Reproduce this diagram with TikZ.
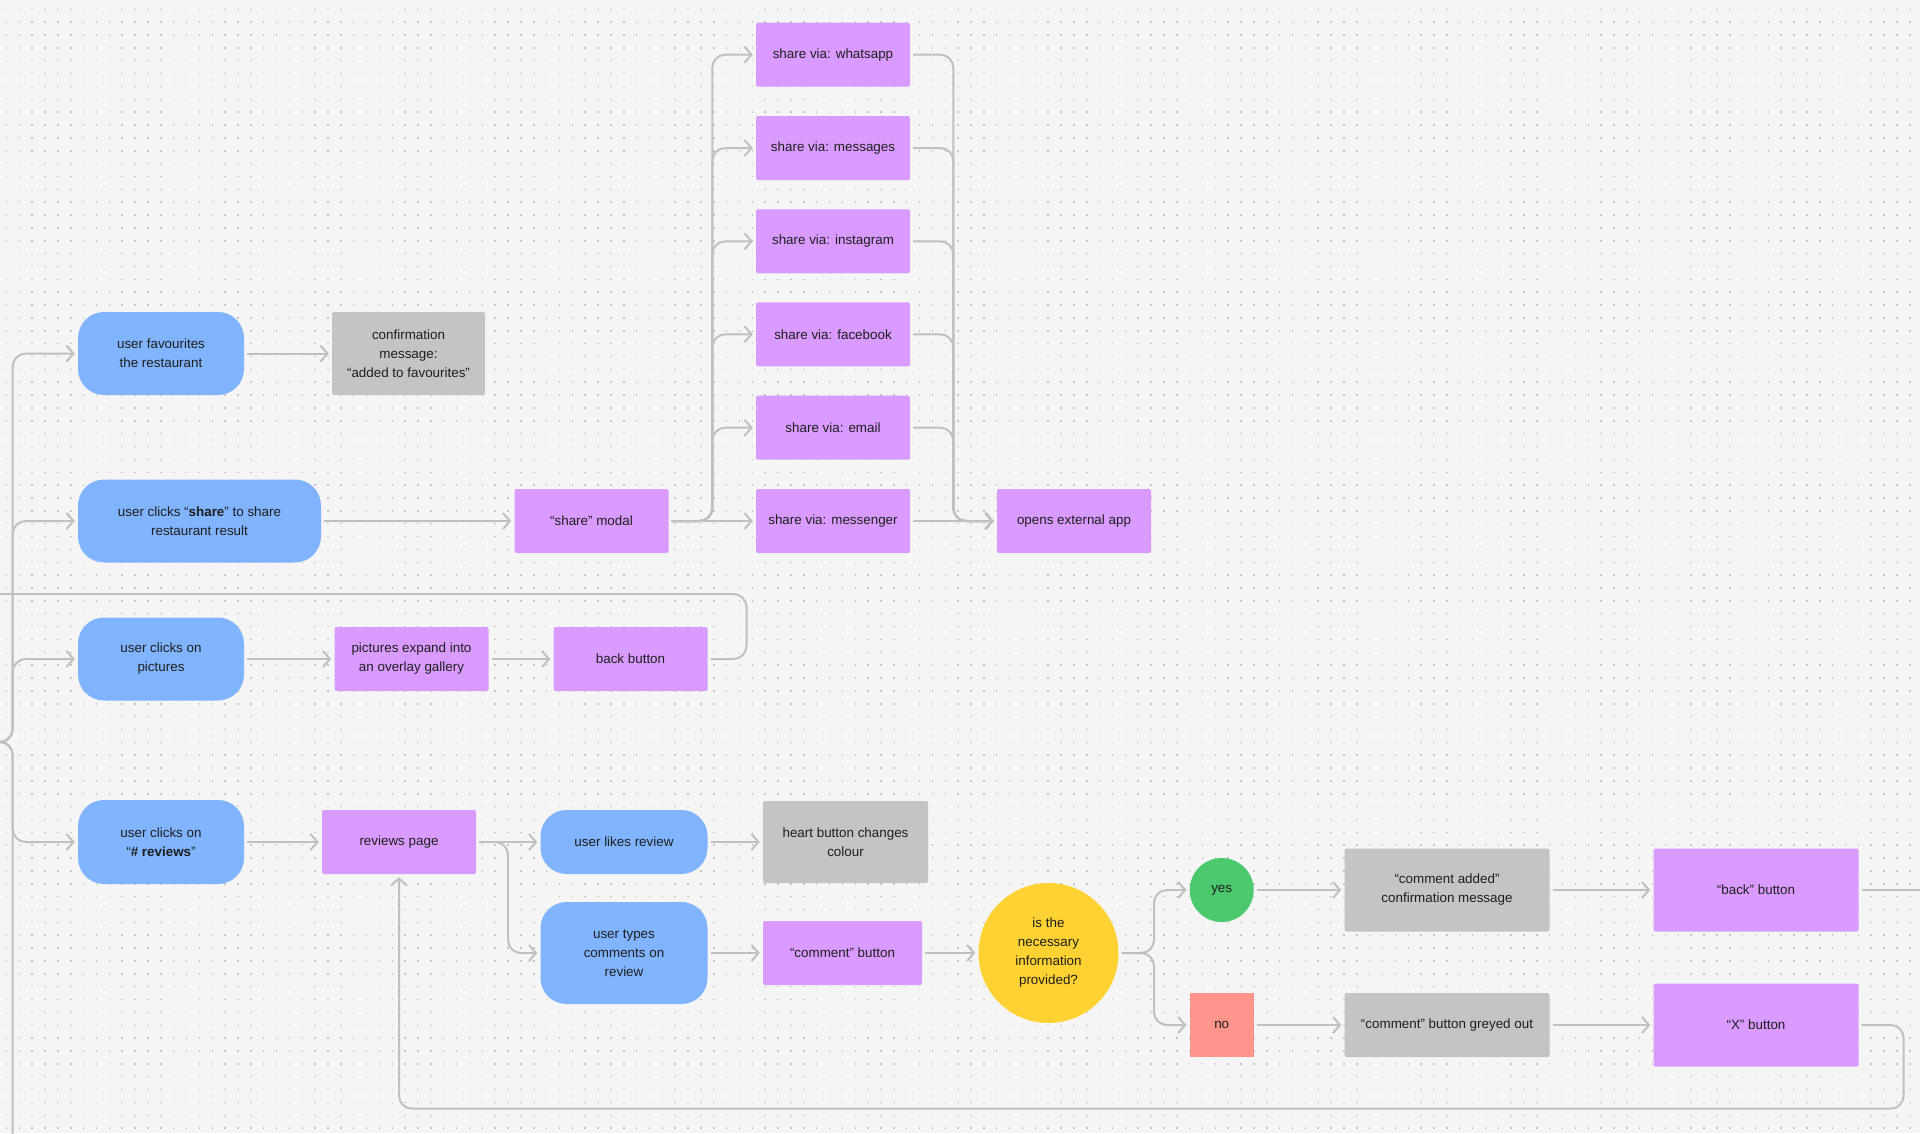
\documentclass[tikz,border=0pt]{standalone}
\usepackage{fontspec}
\setmainfont{Liberation Sans}
\usetikzlibrary{arrows.meta}
\definecolor{bg}{HTML}{F5F5F5}
\definecolor{dotc}{HTML}{C4C4C4}
\definecolor{linec}{HTML}{C0C0C0}
\definecolor{blueN}{HTML}{80B4FF}
\definecolor{purpN}{HTML}{D99BFF}
\definecolor{greyN}{HTML}{C4C4C4}
\definecolor{yellN}{HTML}{FFD233}
\definecolor{greenN}{HTML}{4CC86E}
\definecolor{redN}{HTML}{FF958A}
\definecolor{txt}{HTML}{1E1E1E}
\begin{document}
\begin{tikzpicture}[x=1pt,y=-1pt,
 base/.style={inner sep=0pt, align=center, text=txt, font=\fontsize{13.4}{19}\selectfont},
 bluebox/.style={base, fill=blueN, rounded corners=26pt},
 purpbox/.style={base, fill=purpN, rounded corners=2pt},
 greybox/.style={base, fill=greyN, rounded corners=2pt},
 sz/.style 2 args={minimum width=#1pt, minimum height=#2pt},
 wire/.style={draw=linec, line width=2pt, rounded corners=13pt},
 conn/.style={wire, shorten <=3pt, shorten >=3pt, -{Straight Barb[length=7pt,width=16pt]}},
]
\useasboundingbox (0,0) rectangle (1920,1133);
\fill[bg] (0,0) rectangle (1920,1133);
\foreach \j in {0,...,88} {
  \draw[dotc, line width=1.5pt, dash pattern=on 1.5pt off 11.36pt] (5.75,9.3+12.86*\j) -- (1925,9.3+12.86*\j);
}

% nodes
\node[bluebox, sz={166}{83}] (fav) at (161,353.5) {user favourites\\the restaurant};
\node[greybox, sz={153}{83}] (conf) at (408.5,353.5) {confirmation\\message:\\“added to favourites”};
\node[bluebox, sz={243}{83}] (share) at (199.5,521) {user clicks “\textbf{share}” to share\\restaurant result};
\node[purpbox, sz={154}{64}] (modal) at (591.5,521) {“share” modal};
\node[purpbox, sz={154}{64}] (wa) at (833,54.7) {share via: whatsapp};
\node[purpbox, sz={154}{64}] (msg) at (833,148) {share via: messages};
\node[purpbox, sz={154}{64}] (ig) at (833,241.3) {share via: instagram};
\node[purpbox, sz={154}{64}] (fb) at (833,334.3) {share via: facebook};
\node[purpbox, sz={154}{64}] (em) at (833,427.7) {share via: email};
\node[purpbox, sz={154}{64}] (ms) at (833,521) {share via: messenger};
\node[purpbox, sz={154}{64}] (ext) at (1074,521) {opens external app};
\node[bluebox, sz={166}{83}] (pics) at (161,659) {user clicks on\\pictures};
\node[purpbox, sz={154}{64}] (gal) at (411.5,659) {pictures expand into\\an overlay gallery};
\node[purpbox, sz={154}{64}] (bk) at (630.5,659) {back button};
\node[bluebox, sz={166}{84}] (rev) at (161,842) {user clicks on\\“\textbf{\# reviews}”};
\node[purpbox, sz={154}{64}] (rp) at (399,842) {reviews page};
\node[bluebox, sz={167}{64}] (lk) at (624,842) {user likes review};
\node[bluebox, sz={167}{102}] (ty) at (624,953) {user types\\comments on\\review};
\node[greybox, sz={165}{82}] (ht) at (845.5,842) {heart button changes\\colour};
\node[purpbox, sz={159}{64}] (cb) at (842.5,953) {“comment” button};
\node[base, circle, fill=yellN, minimum size=140pt] (q) at (1048.5,953) {is the\\necessary\\information\\provided?};
\node[base, circle, fill=greenN, minimum size=64pt] (yes) at (1221.7,890) {yes};
\node[base, fill=redN, sz={64}{64}] (no) at (1221.7,1025) {no};
\node[greybox, sz={205}{83}] (add) at (1447,890) {“comment added”\\confirmation message};
\node[greybox, sz={205}{64}] (gr) at (1447,1025) {“comment” button greyed out};
\node[purpbox, sz={205}{83}] (bq) at (1756,890) {“back” button};
\node[purpbox, sz={205}{83}] (xb) at (1756,1025) {“X” button};

% helper coordinates
\coordinate (in) at (-10,742);
\coordinate (trunk) at (12.7,742);
\coordinate (bottom) at (12.7,1145);
\coordinate (loopL) at (-10,594);
\coordinate (bkr) at (746.5,594);
\coordinate (mbr) at (712.3,521);
\coordinate (mrg) at (953.3,521);
\coordinate (rbr) at (508,842);
\coordinate (qbr) at (1154,953);
\coordinate (edgeR) at (1930,890);
\coordinate (xr) at (1903.6,1108.7);

% connectors
\foreach \n in {fav,share,pics,rev} \draw[conn] (in) -- (trunk) |- (\n.west);
\draw[wire] (in) -- (trunk) -- (bottom);
\draw[conn] (fav) -- (conf);
\draw[conn] (share) -- (modal);
\draw[conn] (modal) -- (ms);
\foreach \n in {wa,msg,ig,fb,em} \draw[conn] (modal.east) -- (mbr) |- (\n.west);
\foreach \n in {wa,msg,ig,fb,em} \draw[conn] (\n.east) -| (mrg) -- (ext.west);
\draw[conn] (ms) -- (ext);
\draw[conn] (pics) -- (gal);
\draw[conn] (gal) -- (bk);
\draw[wire, shorten <=3pt] (bk.east) -| (bkr) -- (loopL);
\draw[conn] (rev) -- (rp);
\draw[conn] (rp) -- (lk);
\draw[conn] (rp.east) -- (rbr) |- (ty.west);
\draw[conn] (lk) -- (ht);
\draw[conn] (ty) -- (cb);
\draw[conn] (cb) -- (q);
\draw[conn] (q.east) -- (qbr) |- (yes.west);
\draw[conn] (q.east) -- (qbr) |- (no.west);
\draw[conn] (yes) -- (add);
\draw[conn] (no) -- (gr);
\draw[conn] (add) -- (bq);
\draw[conn] (gr) -- (xb);
\draw[wire, shorten <=3pt] (bq.east) -- (edgeR);
\draw[conn] (xb.east) -| (xr) -| (rp.south);
\end{tikzpicture}
\end{document}
